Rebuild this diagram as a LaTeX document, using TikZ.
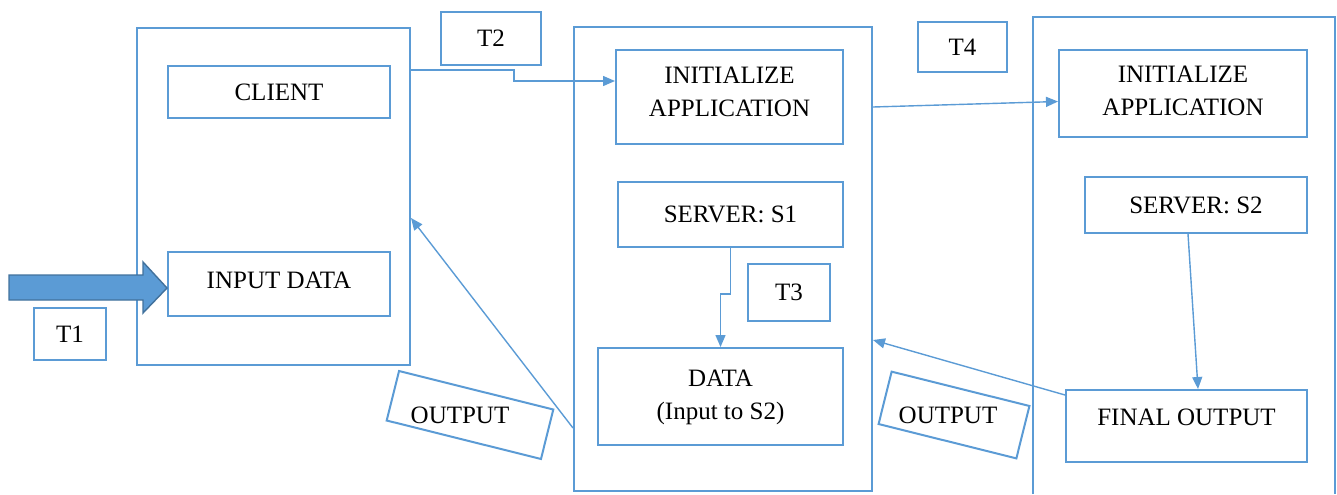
\documentclass[tikz,border=0pt]{standalone}
\usepackage{fontspec}
\setmainfont{Liberation Serif}
\usetikzlibrary{arrows.meta}
\definecolor{boxblue}{RGB}{91,155,213}
\definecolor{arrowedge}{RGB}{65,113,156}

\begin{document}
\begin{tikzpicture}[x=0.5pt,y=-0.5pt,>={Triangle[length=6pt,width=5pt]},
	box/.style={draw=boxblue,line width=1pt,inner sep=0pt,align=center,font=\fontsize{12.5}{16.5}\selectfont},
	lbl/.style={inner sep=0pt,font=\fontsize{12.5}{16.5}\selectfont},
	conn/.style={draw=boxblue,line width=0.7pt}]
	\useasboundingbox (0,0) rectangle (1337,494);
	% client side
	\node[box,minimum width=136.5pt,minimum height=168.5pt] (leftframe) at (273.5,196.5) {};
	\node[box,minimum width=111pt,minimum height=26pt] (client) at (279,92) {CLIENT};
	\node[box,minimum width=111pt,minimum height=32pt,text depth=4pt] (input) at (279,284) {INPUT DATA};
	\node[box,minimum width=36pt,minimum height=26pt] (t1) at (70,334) {T1};
	% server S1
	\node[box,minimum width=149pt,minimum height=232pt] (midframe) at (723,259) {};
	\node[box,minimum width=113.5pt,minimum height=47pt,text depth=5pt] (init1) at (729.5,97) {INITIALIZE\\APPLICATION};
	\node[box,minimum width=112.5pt,minimum height=32.5pt] (srv1) at (730.5,214.5) {SERVER: S1};
	\node[box,minimum width=41pt,minimum height=28.5pt] (t3) at (789,292.5) {T3};
	\node[box,minimum width=122.5pt,minimum height=48.5pt,text depth=2pt] (data) at (720.5,396.5) {DATA\\(Input to S2)};
	\node[box,minimum width=50pt,minimum height=26.5pt] (t2) at (491,38.5) {T2};
	\node[box,minimum width=44.5pt,minimum height=25pt] (t4) at (962.5,47) {T4};
	% server S2
	\draw[boxblue,line width=1pt] (1033,494) -- (1033,17) -- (1335,17) -- (1335,494);
	\node[box,minimum width=124pt,minimum height=43.5pt,text depth=3pt] (init2) at (1183,93.5) {INITIALIZE\\APPLICATION};
	\node[box,minimum width=111pt,minimum height=28pt] (srv2) at (1196,205) {SERVER: S2};
	\node[box,minimum width=120.5pt,minimum height=36pt,text depth=9pt] (final) at (1186.5,426) {FINAL OUTPUT};
	% tilted output tags
	\node[box,rotate=-14,minimum width=79.5pt,minimum height=25.5pt] (out1box) at (470,415) {};
	\node[lbl] (out1) at ([xshift=-5pt]out1box.center) {OUTPUT};
	\node[box,rotate=-14,minimum width=71pt,minimum height=27pt] (out2box) at (954,415) {};
	\node[lbl] (out2) at ([xshift=-3pt]out2box.center) {OUTPUT};
	% connectors
	\fill[boxblue,draw=arrowedge,line width=0.7pt] ([yshift=-2pt]input.west) -- ++(-24,-26) -- ++(0,13) -- ++(-134,0)
		-- ++(0,25) -- ++(134,0) -- ++(0,13) -- cycle;
	\draw[conn,->] ([yshift=-21.5pt]leftframe.north east) -- ++(103,0) |- ([yshift=8pt]init1.west);
	\draw[conn,->] ([yshift=-5pt]init1.east -| midframe.east) -- ([yshift=-4pt]init2.west);
	\draw[conn,->] (srv1.south) -- ++(0,46) -| (data.north);
	\draw[conn,->] ([xshift=-4pt]srv2.south) -- ([xshift=5.75pt]final.north);
	\draw[conn,->] ([yshift=-3pt]final.north west) -- ([yshift=-40.5pt]midframe.east);
	\draw[conn,->] ([yshift=-84.5pt]midframe.west) -- ([yshift=-10.75pt]leftframe.east);
\end{tikzpicture}
\end{document}
